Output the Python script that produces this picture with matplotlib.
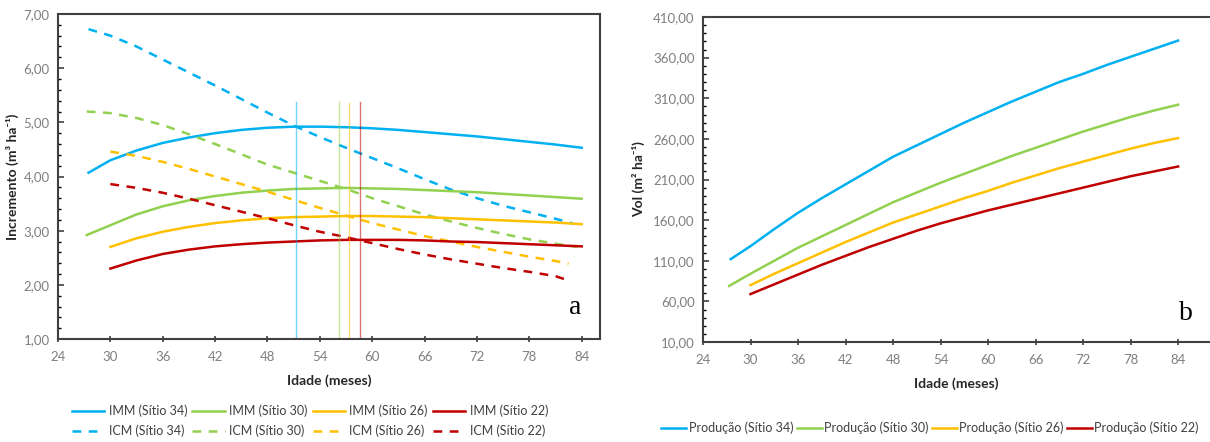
import matplotlib
matplotlib.use("Agg")
import matplotlib.pyplot as plt
from matplotlib.ticker import MultipleLocator, FuncFormatter

plt.rcParams['font.family'] = ['Lato', 'DejaVu Sans']

# ---- data: panel a (increments) ----
x_imm34 = [27.5, 30, 33, 36, 39, 42, 45, 48, 51, 54, 57, 60, 63, 66, 69, 72, 75, 78, 81, 84]
imm34 = [4.07, 4.3, 4.48, 4.62, 4.72, 4.8, 4.86, 4.9, 4.92, 4.92, 4.91, 4.89, 4.86, 4.82, 4.78, 4.74, 4.69, 4.64, 4.59, 4.53]
x_icm34 = [27.5, 30, 33, 36, 39, 42, 45, 48, 51, 54, 57, 60, 63, 66, 69, 72, 75, 78, 81, 83]
icm34 = [6.72, 6.6, 6.4, 6.16, 5.92, 5.68, 5.43, 5.18, 4.94, 4.73, 4.53, 4.34, 4.15, 3.95, 3.76, 3.6, 3.46, 3.34, 3.22, 3.13]

x_imm30 = [27.3, 30, 33, 36, 39, 42, 45, 48, 51, 54, 57, 60, 63, 66, 69, 72, 75, 78, 81, 84]
imm30 = [2.92, 3.1, 3.3, 3.45, 3.56, 3.64, 3.7, 3.74, 3.77, 3.78, 3.79, 3.78, 3.77, 3.75, 3.73, 3.71, 3.68, 3.65, 3.62, 3.59]
x_icm30 = [27.3, 30, 33, 36, 39, 42, 45, 48, 51, 54, 57, 60, 63, 66, 69, 72, 75, 78, 81, 83.5]
icm30 = [5.2, 5.17, 5.08, 4.95, 4.78, 4.6, 4.41, 4.22, 4.07, 3.92, 3.77, 3.6, 3.45, 3.3, 3.17, 3.05, 2.94, 2.84, 2.76, 2.7]

x_imm26 = [30, 33, 36, 39, 42, 45, 48, 51, 54, 57, 60, 63, 66, 69, 72, 75, 78, 81, 84]
imm26 = [2.7, 2.86, 2.98, 3.07, 3.14, 3.19, 3.23, 3.25, 3.26, 3.27, 3.27, 3.26, 3.25, 3.23, 3.21, 3.19, 3.17, 3.15, 3.12]
x_icm26 = [30, 33, 36, 39, 42, 45, 48, 51, 54, 57, 60, 63, 66, 69, 72, 75, 78, 81, 82.5]
icm26 = [4.46, 4.38, 4.27, 4.14, 4.0, 3.86, 3.72, 3.57, 3.42, 3.28, 3.14, 3.02, 2.9, 2.8, 2.7, 2.61, 2.52, 2.44, 2.39]

x_imm22 = [30, 33, 36, 39, 42, 45, 48, 51, 54, 57, 60, 63, 66, 69, 72, 75, 78, 81, 84]
imm22 = [2.3, 2.45, 2.57, 2.65, 2.71, 2.75, 2.78, 2.8, 2.82, 2.83, 2.83, 2.83, 2.82, 2.8, 2.79, 2.77, 2.75, 2.73, 2.71]
x_icm22 = [30, 33, 36, 39, 42, 45, 48, 51, 54, 57, 60, 63, 66, 69, 72, 75, 78, 81, 82.5]
icm22 = [3.86, 3.79, 3.7, 3.59, 3.47, 3.35, 3.23, 3.1, 2.98, 2.88, 2.77, 2.66, 2.56, 2.47, 2.39, 2.31, 2.24, 2.16, 2.08]

# technical rotation age (IMM = ICM) per site
rotation_age = [51.3, 56.2, 57.3, 58.6]
rotation_top = [5.37, 5.37, 5.35, 5.37]

# ---- data: panel b (production) ----
x_prod34 = [27.5, 30, 33, 36, 39, 42, 45, 48, 51, 54, 57, 60, 63, 66, 69, 72, 75, 78, 81, 84]
prod34 = [112, 128, 149, 169, 187, 204, 221, 238, 252, 266, 280, 293, 306, 318, 330, 340, 351, 361, 371, 381]
x_prod30 = [27.3, 30, 33, 36, 39, 42, 45, 48, 51, 54, 57, 60, 63, 66, 69, 72, 75, 78, 81, 84]
prod30 = [79, 94, 110, 126, 140, 154, 168, 182, 194, 206, 217, 228, 239, 249, 259, 269, 278, 287, 295, 302]
x_prod26 = [30, 33, 36, 39, 42, 45, 48, 51, 54, 57, 60, 63, 66, 69, 72, 75, 78, 81, 84]
prod26 = [80, 94, 107, 120, 133, 145, 157, 167, 177, 187, 196, 206, 215, 224, 232, 240, 248, 255, 261]
x_prod22 = [30, 33, 36, 39, 42, 45, 48, 51, 54, 57, 60, 63, 66, 69, 72, 75, 78, 81, 84]
prod22 = [69, 81, 93, 105, 116, 127, 137, 147, 156, 164, 172, 179, 186, 193, 200, 207, 214, 220, 226]

sites = ["34", "30", "26", "22"]
colors = ["#00B0F0", "#92D050", "#FFC000", "#C00000"]

W, H = 1210, 442
fig = plt.figure(figsize=(W / 100, H / 100), dpi=100)

spine_col = "#404040"
tick_col = "#7f7f7f"
comma = FuncFormatter(lambda v, p: f"{v:.2f}".replace(".", ","))


def style_axes(ax, ymin, ymax, ymajor, yminor, yoffset=0):
    ax.set_ylim(ymin, ymax)
    ax.xaxis.set_major_locator(MultipleLocator(6))
    ax.yaxis.set_major_locator(MultipleLocator(ymajor, offset=yoffset))
    ax.yaxis.set_minor_locator(MultipleLocator(yminor))
    ax.yaxis.set_major_formatter(comma)
    for s in ax.spines.values():
        s.set_color(spine_col)
        s.set_linewidth(1.5)
    ax.tick_params(axis="both", labelsize=9.5, labelcolor=tick_col, colors=spine_col)
    ax.tick_params(axis="x", direction="inout", length=5, width=1.2, pad=6)
    ax.tick_params(axis="y", which="major", direction="in", length=4, width=1.2, pad=6)
    ax.tick_params(axis="y", which="minor", direction="in", length=2.5, width=1)
    ax.set_xlabel("Idade (meses)", fontsize=10, fontweight="bold", color="#262626", labelpad=8)


# ---- panel a ----
ax1 = fig.add_axes([58 / W, (H - 339) / H, (600 - 58) / W, (339 - 14) / H])
ax1.set_xlim(24, 86.1)

imm_x = [x_imm34, x_imm30, x_imm26, x_imm22]
imm_y = [imm34, imm30, imm26, imm22]
icm_x = [x_icm34, x_icm30, x_icm26, x_icm22]
icm_y = [icm34, icm30, icm26, icm22]

handles = []
for i, s in enumerate(sites):
    h1, = ax1.plot(imm_x[i], imm_y[i], color=colors[i], lw=1.8, label=f"IMM (Sítio {s})")
    h2, = ax1.plot(icm_x[i], icm_y[i], color=colors[i], lw=1.8, ls=(0, (3.5, 3)), label=f"ICM (Sítio {s})")
    handles += [h1, h2]
for i in range(4):
    ax1.plot([rotation_age[i]] * 2, [1, rotation_top[i]], color=colors[i], lw=1, alpha=0.55)

style_axes(ax1, 1, 7, 1, 0.2)
ax1.set_ylabel("Incremento (m³ ha⁻¹)", fontsize=10, fontweight="bold", color="#262626", labelpad=3)
ax1.text(0.955, 0.06, "a", transform=ax1.transAxes, fontsize=20, family="Liberation Serif",
         ha="center", va="bottom")
fig.legend(handles=handles, ncol=4, loc="center", bbox_to_anchor=(310 / W, 1 - 421 / H),
           frameon=False, fontsize=9, labelcolor="#404040", handlelength=2.6,
           handletextpad=0.35, columnspacing=0.4, labelspacing=0.6, borderpad=0)

# ---- panel b ----
ax2 = fig.add_axes([703 / W, (H - 342) / H, (1209 - 703) / W, (342 - 17) / H])
ax2.set_xlim(24, 87.9)

prod_x = [x_prod34, x_prod30, x_prod26, x_prod22]
prod_y = [prod34, prod30, prod26, prod22]
for i, s in enumerate(sites):
    ax2.plot(prod_x[i], prod_y[i], color=colors[i], lw=1.8, label=f"Produção (Sítio {s})")

style_axes(ax2, 10, 410, 50, 10, yoffset=10)
ax2.spines["right"].set_visible(False)
ax2.set_ylabel("Vol (m² ha⁻¹)", fontsize=10, fontweight="bold", color="#262626", labelpad=6)
ax2.text(0.955, 0.05, "b", transform=ax2.transAxes, fontsize=20, family="Liberation Serif",
         ha="center", va="bottom")
ax2.legend(ncol=4, loc="center", bbox_to_anchor=(930 / W, 1 - 428 / H),
           bbox_transform=fig.transFigure, frameon=False, fontsize=9, labelcolor="#404040",
           handlelength=2.0, handletextpad=0.2, columnspacing=0.25, borderpad=0)

fig.savefig("out.png", dpi=100)
